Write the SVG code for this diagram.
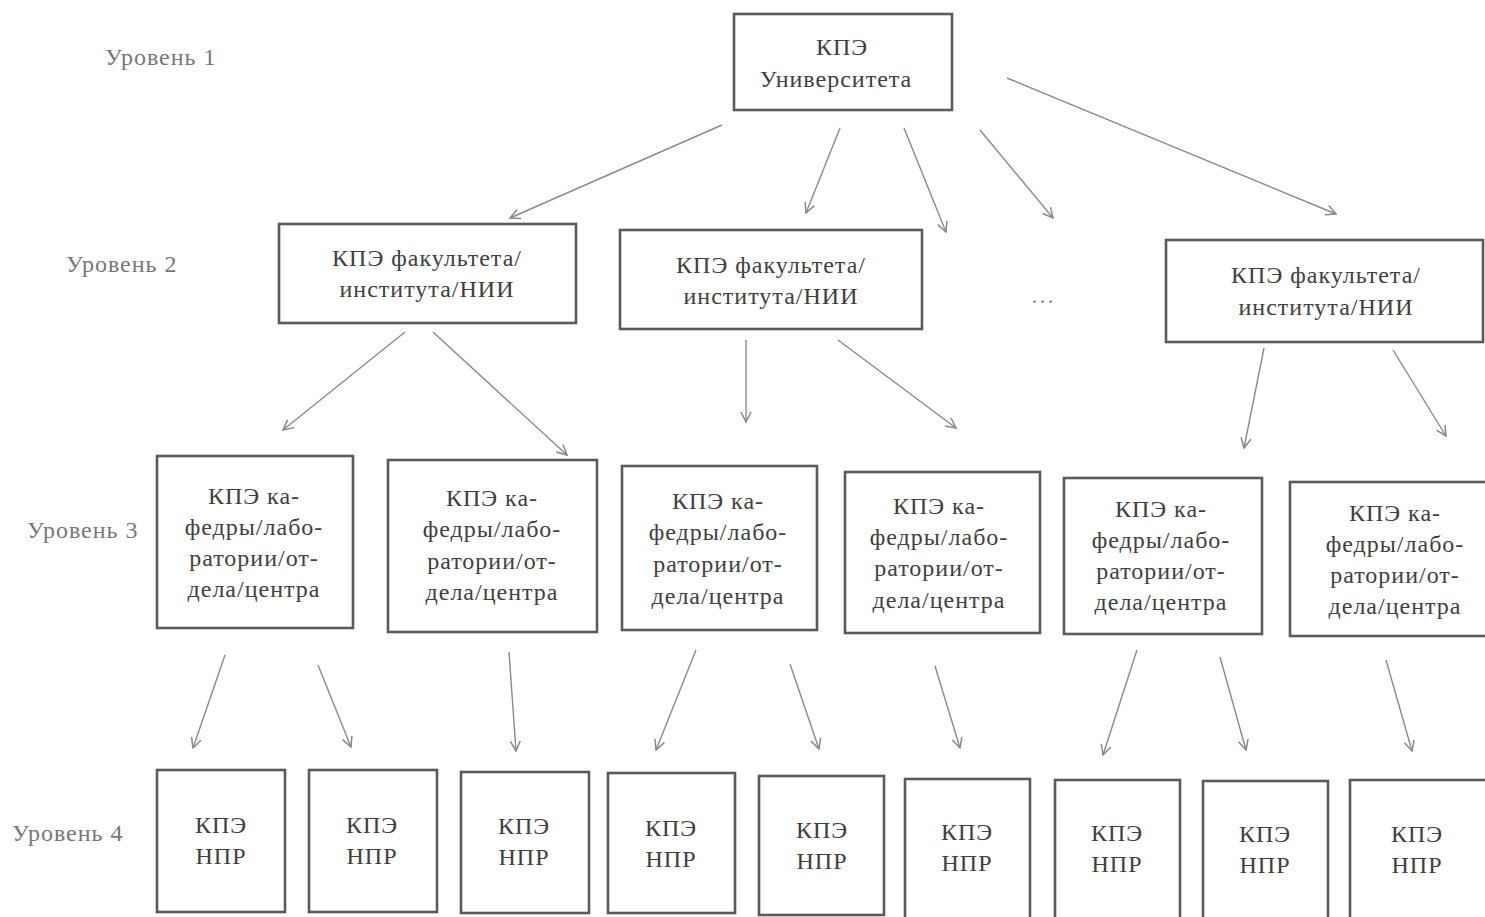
<svg xmlns="http://www.w3.org/2000/svg" width="1485" height="917" viewBox="0 0 1485 917">
<defs>
<marker id="ah" viewBox="0 0 12 12" refX="11" refY="6" markerWidth="12" markerHeight="12" markerUnits="userSpaceOnUse" orient="auto">
<path d="M1,1 L11,6 L1,11" fill="none" stroke="#888" stroke-width="1.5"/>
</marker>
<style>
.box{fill:#fff;stroke:#5a5a5a;stroke-width:2.6}
.t{font-family:"Liberation Serif","Times New Roman",serif;font-size:24px;letter-spacing:1px;fill:#404040;text-anchor:middle}
.lv{font-family:"Liberation Serif","Times New Roman",serif;font-size:24px;letter-spacing:1px;fill:#777}
.c line{stroke:#8a8a8a;stroke-width:1.4;marker-end:url(#ah)}
</style>
</defs>
<rect width="1485" height="917" fill="#fff"/>

<g id="labels">
<text class="lv" x="105" y="65">Уровень 1</text>
<text class="lv" x="66" y="272">Уровень 2</text>
<text class="lv" x="27" y="538">Уровень 3</text>
<text class="lv" x="12" y="841">Уровень 4</text>
</g>

<g class="c" id="connectors">
<line x1="722" y1="125" x2="510" y2="218"/>
<line x1="840" y1="128" x2="806" y2="213"/>
<line x1="904" y1="128" x2="946" y2="232"/>
<line x1="980" y1="130" x2="1053" y2="218"/>
<line x1="1007" y1="78" x2="1336" y2="214"/>
<line x1="405" y1="332" x2="283" y2="430"/>
<line x1="433" y1="332" x2="567" y2="455"/>
<line x1="746" y1="340" x2="746" y2="422"/>
<line x1="838" y1="340" x2="956" y2="428"/>
<line x1="1264" y1="348" x2="1244" y2="448"/>
<line x1="1393" y1="350" x2="1446" y2="436"/>
<line x1="225" y1="655" x2="193" y2="748"/>
<line x1="318" y1="665" x2="351" y2="747"/>
<line x1="509" y1="652" x2="516" y2="751"/>
<line x1="696" y1="650" x2="656" y2="750"/>
<line x1="790" y1="664" x2="819" y2="749"/>
<line x1="935" y1="666" x2="960" y2="748"/>
<line x1="1137" y1="650" x2="1103" y2="755"/>
<line x1="1220" y1="657" x2="1246" y2="750"/>
<line x1="1386" y1="660" x2="1412" y2="751"/>
</g>

<g id="n1"><rect class="box" x="734" y="14" width="218" height="96"/>
<text class="t" x="842" y="55">КПЭ</text><text class="t" x="836" y="87">Университета</text></g>

<g id="n2a"><rect class="box" x="279" y="224" width="297" height="99"/>
<text class="t" x="427" y="266">КПЭ факультета/</text><text class="t" x="427" y="297">института/НИИ</text></g>
<g id="n2b"><rect class="box" x="620" y="230" width="302" height="99"/>
<text class="t" x="771" y="273">КПЭ факультета/</text><text class="t" x="771" y="304">института/НИИ</text></g>
<text class="t" x="1043" y="303" style="fill:#888">…</text>
<g id="n2c"><rect class="box" x="1166" y="240" width="317" height="102"/>
<text class="t" x="1326" y="283">КПЭ факультета/</text><text class="t" x="1326" y="315">института/НИИ</text></g>

<g id="n3a"><rect class="box" x="157" y="456" width="196" height="172"/>
<text class="t" x="254" y="504">КПЭ ка-</text><text class="t" x="254" y="535">федры/лабо-</text><text class="t" x="254" y="566">ратории/от-</text><text class="t" x="254" y="597">дела/центра</text></g>
<g id="n3b"><rect class="box" x="388" y="460" width="209" height="172"/>
<text class="t" x="492" y="506">КПЭ ка-</text><text class="t" x="492" y="537">федры/лабо-</text><text class="t" x="492" y="569">ратории/от-</text><text class="t" x="492" y="600">дела/центра</text></g>
<g id="n3c"><rect class="box" x="622" y="466" width="195" height="164"/>
<text class="t" x="718" y="509">КПЭ ка-</text><text class="t" x="718" y="540">федры/лабо-</text><text class="t" x="718" y="572">ратории/от-</text><text class="t" x="718" y="604">дела/центра</text></g>
<g id="n3d"><rect class="box" x="845" y="472" width="195" height="161"/>
<text class="t" x="939" y="514">КПЭ ка-</text><text class="t" x="939" y="545">федры/лабо-</text><text class="t" x="939" y="576">ратории/от-</text><text class="t" x="939" y="608">дела/центра</text></g>
<g id="n3e"><rect class="box" x="1064" y="478" width="198" height="156"/>
<text class="t" x="1161" y="517">КПЭ ка-</text><text class="t" x="1161" y="548">федры/лабо-</text><text class="t" x="1161" y="579">ратории/от-</text><text class="t" x="1161" y="610">дела/центра</text></g>
<g id="n3f"><rect class="box" x="1290" y="482" width="197" height="154"/>
<text class="t" x="1395" y="521">КПЭ ка-</text><text class="t" x="1395" y="552">федры/лабо-</text><text class="t" x="1395" y="583">ратории/от-</text><text class="t" x="1395" y="614">дела/центра</text></g>

<g id="n4a"><rect class="box" x="157" y="770" width="128" height="142"/>
<text class="t" x="221" y="833">КПЭ</text><text class="t" x="221" y="864">НПР</text></g>
<g id="n4b"><rect class="box" x="309" y="770" width="128" height="142"/>
<text class="t" x="372" y="833">КПЭ</text><text class="t" x="372" y="864">НПР</text></g>
<g id="n4c"><rect class="box" x="461" y="772" width="128" height="141"/>
<text class="t" x="524" y="834">КПЭ</text><text class="t" x="524" y="865">НПР</text></g>
<g id="n4d"><rect class="box" x="608" y="773" width="127" height="140"/>
<text class="t" x="671" y="836">КПЭ</text><text class="t" x="671" y="867">НПР</text></g>
<g id="n4e"><rect class="box" x="759" y="776" width="125" height="139"/>
<text class="t" x="822" y="838">КПЭ</text><text class="t" x="822" y="869">НПР</text></g>
<g id="n4f"><rect class="box" x="905" y="779" width="125" height="140"/>
<text class="t" x="967" y="840">КПЭ</text><text class="t" x="967" y="871">НПР</text></g>
<g id="n4g"><rect class="box" x="1055" y="780" width="125" height="140"/>
<text class="t" x="1117" y="841">КПЭ</text><text class="t" x="1117" y="872">НПР</text></g>
<g id="n4h"><rect class="box" x="1203" y="781" width="125" height="140"/>
<text class="t" x="1265" y="842">КПЭ</text><text class="t" x="1265" y="873">НПР</text></g>
<g id="n4i"><rect class="box" x="1350" y="780" width="137" height="140"/>
<text class="t" x="1417" y="842">КПЭ</text><text class="t" x="1417" y="873">НПР</text></g>
</svg>
